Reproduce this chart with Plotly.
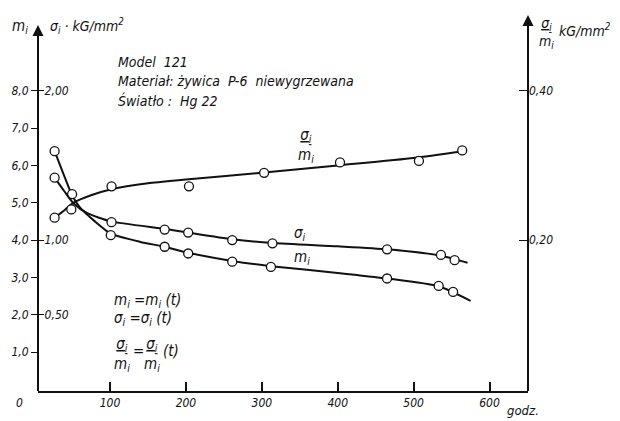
import plotly.graph_objects as go

# ---------------- data ----------------
# measured points
t_m_pts = [27, 50, 101, 172, 203, 261, 312, 465, 533, 552]
m_pts = [6.38, 5.23, 4.13, 3.82, 3.64, 3.42, 3.28, 2.97, 2.77, 2.61]

t_s_pts = [27, 102, 172, 203, 261, 314, 465, 536, 554]
s_pts = [1.418, 1.12, 1.07, 1.05, 1.00, 0.978, 0.938, 0.90, 0.865]

t_r_pts = [27, 49, 102, 204, 303, 403, 507, 564]
r_pts = [0.230, 0.241, 0.272, 0.272, 0.290, 0.304, 0.306, 0.320]

# faired curves
t_m_curve = [27, 40, 50, 60, 80, 101, 140, 172, 203, 261, 312, 400, 465, 533, 575]
m_curve = [6.38, 5.7, 5.2, 4.88, 4.5, 4.17, 3.95, 3.82, 3.66, 3.44, 3.30, 3.12, 2.97, 2.76, 2.37]

t_s_curve = [27, 40, 52, 70, 101, 172, 203, 261, 314, 400, 465, 536, 571]
s_curve = [1.418, 1.325, 1.245, 1.18, 1.125, 1.075, 1.05, 1.005, 0.98, 0.958, 0.938, 0.895, 0.848]

t_r_curve = [27, 40, 52, 75, 102, 150, 200, 303, 400, 500, 565]
r_curve = [0.230, 0.240, 0.250, 0.260, 0.268, 0.276, 0.281, 0.2905, 0.300, 0.310, 0.319]

x_ticks = [100, 200, 300, 400, 500, 600]
x_ticktext = ["100", "200", "300", "400", "500", "600"]
m_ticks = [1, 2, 3, 4, 5, 6, 7, 8]
m_ticktext = ["1,0", "2,0", "3,0", "4,0", "5,0", "6,0", "7,0", "8,0"]
s_ticks = [0.5, 1.0, 2.0]
s_ticktext = ["0,50", "1,00", "2,00"]
r_ticks = [0.2, 0.4]
r_ticktext = ["0,20", "0,40"]

# ---------------- styling ----------------
FONT = "DejaVu Sans Condensed, Liberation Sans Narrow, DejaVu Sans, sans-serif"
INK = "#111111"
Y_MIN, Y_MAX = -0.045, 10.03
X_MIN, X_MAX = 5.1, 650.7

fig = go.Figure()

line_style = dict(color=INK, width=2, shape="spline", smoothing=0.6)
marker_style = dict(symbol="circle", size=9, color="white", line=dict(color=INK, width=1.3))

fig.add_trace(go.Scatter(x=t_m_curve, y=m_curve, mode="lines", line=line_style, yaxis="y", hoverinfo="skip"))
fig.add_trace(go.Scatter(x=t_s_curve, y=s_curve, mode="lines", line=line_style, yaxis="y2", hoverinfo="skip"))
fig.add_trace(go.Scatter(x=t_r_curve, y=r_curve, mode="lines", line=line_style, yaxis="y3", hoverinfo="skip"))
fig.add_trace(go.Scatter(x=t_m_pts, y=m_pts, mode="markers", marker=marker_style, yaxis="y"))
fig.add_trace(go.Scatter(x=t_s_pts, y=s_pts, mode="markers", marker=marker_style, yaxis="y2"))
fig.add_trace(go.Scatter(x=t_r_pts, y=r_pts, mode="markers", marker=marker_style, yaxis="y3"))

tickfont = dict(family=FONT, size=12, color=INK, style="italic")

fig.update_layout(
    width=620, height=421,
    margin=dict(l=38, r=92, t=15, b=30),
    paper_bgcolor="white", plot_bgcolor="white",
    showlegend=False,
    xaxis=dict(range=[X_MIN, X_MAX], showgrid=False, zeroline=False,
               showline=True, linecolor=INK, linewidth=2,
               tickvals=x_ticks, ticktext=x_ticktext, ticks="inside",
               ticklen=9, tickwidth=1.5, tickcolor=INK, tickfont=tickfont),
    yaxis=dict(range=[Y_MIN, Y_MAX], showgrid=False, zeroline=False,
               showline=False, tickvals=m_ticks, ticktext=m_ticktext,
               ticks="outside", ticklen=6, tickwidth=1.2, tickcolor=INK,
               tickfont=tickfont),
    yaxis2=dict(range=[Y_MIN / 4, Y_MAX / 4], overlaying="y", side="left",
                anchor="x", showgrid=False, zeroline=False, showline=False,
                tickvals=s_ticks, ticktext=s_ticktext, ticks="inside",
                ticklabelposition="inside", ticklen=6, tickwidth=1.2,
                tickcolor=INK, tickfont=tickfont),
    yaxis3=dict(range=[Y_MIN / 20, Y_MAX / 20], overlaying="y", side="right",
                anchor="x", showgrid=False, zeroline=False, showline=False,
                tickvals=r_ticks, ticktext=r_ticktext, ticks="inside",
                ticklen=9, tickwidth=1.2, tickcolor=INK, tickfont=tickfont),
)

# axis lines (left with arrow, right with arrow)
fig.add_shape(type="line", xref="paper", yref="y", x0=0, x1=0, y0=Y_MIN, y1=9.6,
              line=dict(color=INK, width=2))
fig.add_shape(type="line", xref="paper", yref="y", x0=1, x1=1, y0=Y_MIN, y1=9.85,
              line=dict(color=INK, width=2))
for xp, ytop in [(0, 9.76), (1, 10.03)]:
    fig.add_annotation(xref="paper", yref="y", x=xp, y=ytop, ax=0, ay=14, text="",
                       showarrow=True, arrowhead=2, arrowsize=1.1, arrowwidth=2,
                       arrowcolor=INK, standoff=0)

def txt(x, y, s, size=13, xanchor="left", xref="paper", yref="paper"):
    fig.add_annotation(x=x, y=y, xref=xref, yref=yref, text=s, showarrow=False,
                       xanchor=xanchor, yanchor="middle",
                       font=dict(family=FONT, size=size, color=INK, style="italic"))

def px(xp):
    return (xp - 38) / (620 - 38 - 92)

def py(yp):
    return (421 - 30 - yp) / (421 - 15 - 30)

# header texts
txt(px(10), py(27), "m<sub>i</sub>", size=15)
txt(px(48), py(26), "σ<sub>i</sub> · kG/mm<sup>2</sup>", size=14)
txt(px(116), py(62), "Model  121", size=14)
txt(px(116), py(81), "Materiał: żywica  P-6  niewygrzewana", size=14)
txt(px(116), py(100), "Światło :  Hg 22", size=14)

# right axis title
txt(px(537), py(33), "<u>σ<sub>i</sub></u><br>m<sub>i</sub>", size=14)
txt(px(557), py(30), "kG/mm<sup>2</sup>", size=14)

# curve labels
txt(px(296), py(145), "<u>σ<sub>i</sub></u><br>m<sub>i</sub>", size=15)
txt(px(292), py(233), "σ<sub>i</sub>", size=15)
txt(px(292), py(257), "m<sub>i</sub>", size=15)

# equations
txt(px(112), py(300), "m<sub>i</sub> =m<sub>i</sub> (t)", size=15)
txt(px(112), py(318), "σ<sub>i</sub> =σ<sub>i</sub> (t)", size=15)
txt(px(112), py(354), "<u>σ<sub>i</sub></u><br>m<sub>i</sub>", size=15)
txt(px(131), py(351), "=", size=15)
txt(px(142), py(354), "<u>σ<sub>i</sub></u><br>m<sub>i</sub>", size=15)
txt(px(161), py(351), "(t)", size=15)

# axis end labels
txt(px(14), py(403), "0", size=12)
txt(px(505), py(410), "godz.", size=13)

fig.write_html("out.html")
